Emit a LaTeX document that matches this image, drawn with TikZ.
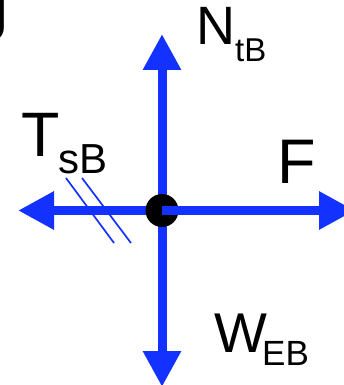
\documentclass[tikz,border=0pt]{standalone}
\usepackage{fontspec}
\setmainfont{Liberation Sans}
\usetikzlibrary{arrows.meta}
\definecolor{fblue}{RGB}{20,50,255}
\begin{document}
\begin{tikzpicture}[x=1pt,y=-1pt,
  force/.style={draw=fblue,line width=9pt,-{Triangle[length=36pt,width=36pt]}},
  hatch/.style={draw=fblue,line width=1.7pt},
  lbl/.style={inner sep=0pt,anchor=base west,text=black}]
\useasboundingbox (0,0) rectangle (344,385);
\coordinate (O) at (162,210.5);
\coordinate (up) at (162,34);
\coordinate (down) at (162,387);
\coordinate (left) at (18,210.5);
\coordinate (right) at (355,210.5);
\coordinate (h1a) at (66,178);
\coordinate (h1b) at (114,243);
\coordinate (h2a) at (82,178);
\coordinate (h2b) at (131,243);
\draw[force] (O) -- (up);
\draw[force] (O) -- (down);
\draw[force] (O) -- (left);
\node[circle,fill=black,minimum size=33pt,inner sep=0pt] (dot) at (O) {};
\draw[force] (dot.center) -- (right);
\draw[hatch] (h1a) -- (h1b);
\draw[hatch] (h2a) -- (h2b);
\node[lbl,anchor=base east] (J) at (9,41) {\fontsize{63}{63}\selectfont J};
\node[lbl] (N) at (196,45) {\fontsize{54}{54}\selectfont N};
\node[lbl] (Nsub) at (235,62) {\fontsize{33}{33}\selectfont tB};
\node[lbl] (T) at (21.6,156) {\fontsize{62.8}{62.8}\selectfont T};
\node[lbl] (Tsub) at (58.5,173) {\fontsize{42}{42}\selectfont sB};
\node[lbl] (F) at (277,183) {\fontsize{63}{63}\selectfont F};
\node[lbl] (W) at (214.5,352) {\fontsize{56}{56}\selectfont W};
\node[lbl] (Wsub) at (262,365) {\fontsize{35}{35}\selectfont EB};
\end{tikzpicture}
\end{document}
